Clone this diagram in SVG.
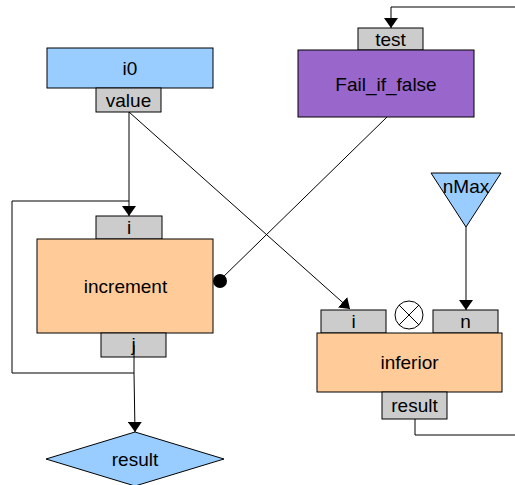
<svg xmlns="http://www.w3.org/2000/svg" width="515" height="485" viewBox="0 0 515 485">
<defs>
<style>
.box{stroke:#000;stroke-width:1}
.port{fill:#cccccc;stroke:#000;stroke-width:1}
.blue{fill:#99ccff}
.orange{fill:#ffcc99}
.purple{fill:#9966cc}
text{font-family:"Liberation Sans",Arial,sans-serif;font-size:19px;fill:#000;text-anchor:middle}
.wire{fill:none;stroke:#000;stroke-width:1}
</style>
<marker id="arr" markerWidth="10" markerHeight="14" refX="10" refY="7" orient="auto" markerUnits="userSpaceOnUse">
<path d="M0,0 L10,7 L0,14 Z" fill="#000"/>
</marker>
</defs>
<g id="i0">
<rect class="box blue" x="47" y="48" width="166" height="40"/>
<text x="130" y="75">i0</text>
<rect class="port" x="96" y="88" width="65" height="24"/>
<text x="128.5" y="107">value</text>
</g>
<g id="Fail_if_false">
<rect class="port" x="358" y="28" width="65" height="22"/>
<text x="390.5" y="46">test</text>
<rect class="box purple" x="298" y="50" width="176" height="67"/>
<text x="386" y="91">Fail_if_false</text>
</g>
<g id="increment">
<rect class="port" x="96" y="216" width="66" height="23"/>
<text x="129" y="234">i</text>
<rect class="box orange" x="37" y="239" width="176" height="94"/>
<text x="125.5" y="293">increment</text>
<rect class="port" x="101" y="333" width="65" height="24"/>
<text x="133.5" y="351">j</text>
</g>
<g id="nMax">
<polygon class="box blue" points="431,173 501,173 466,227"/>
<text x="466" y="193">nMax</text>
</g>
<g id="inferior">
<rect class="port" x="321" y="310" width="65" height="23"/>
<text x="353.5" y="328">i</text>
<circle cx="409" cy="315" r="14" fill="#fff" stroke="#000"/>
<path class="wire" d="M399,305 L419,325 M419,305 L399,325"/>
<rect class="port" x="433" y="310" width="65" height="23"/>
<text x="465.5" y="328">n</text>
<rect class="box orange" x="317" y="333" width="185" height="59"/>
<text x="409.5" y="369">inferior</text>
<rect class="port" x="382" y="392" width="65" height="27"/>
<text x="414.5" y="412">result</text>
</g>
<g id="result">
<polygon class="box blue" points="135,432 224,459 135,486 46,459"/>
<text x="135" y="466">result</text>
</g>
<g id="connectors">
<path class="wire" d="M515,7 L391,7 L391,28" marker-end="url(#arr)"/>
<path class="wire" d="M129,112 L129,216" marker-end="url(#arr)"/>
<path class="wire" d="M134,345 L134,373 L12,373 L12,201 L129,201"/>
<path class="wire" d="M134,373 L135,432" marker-end="url(#arr)"/>
<path class="wire" d="M129,112 L350,309" marker-end="url(#arr)"/>
<path class="wire" d="M387,117 L219,281"/>
<circle cx="220" cy="281" r="7" fill="#000"/>
<path class="wire" d="M466,227 L466,310" marker-end="url(#arr)"/>
<path class="wire" d="M415,419 L415,435 L515,435"/>
</g>
</svg>
